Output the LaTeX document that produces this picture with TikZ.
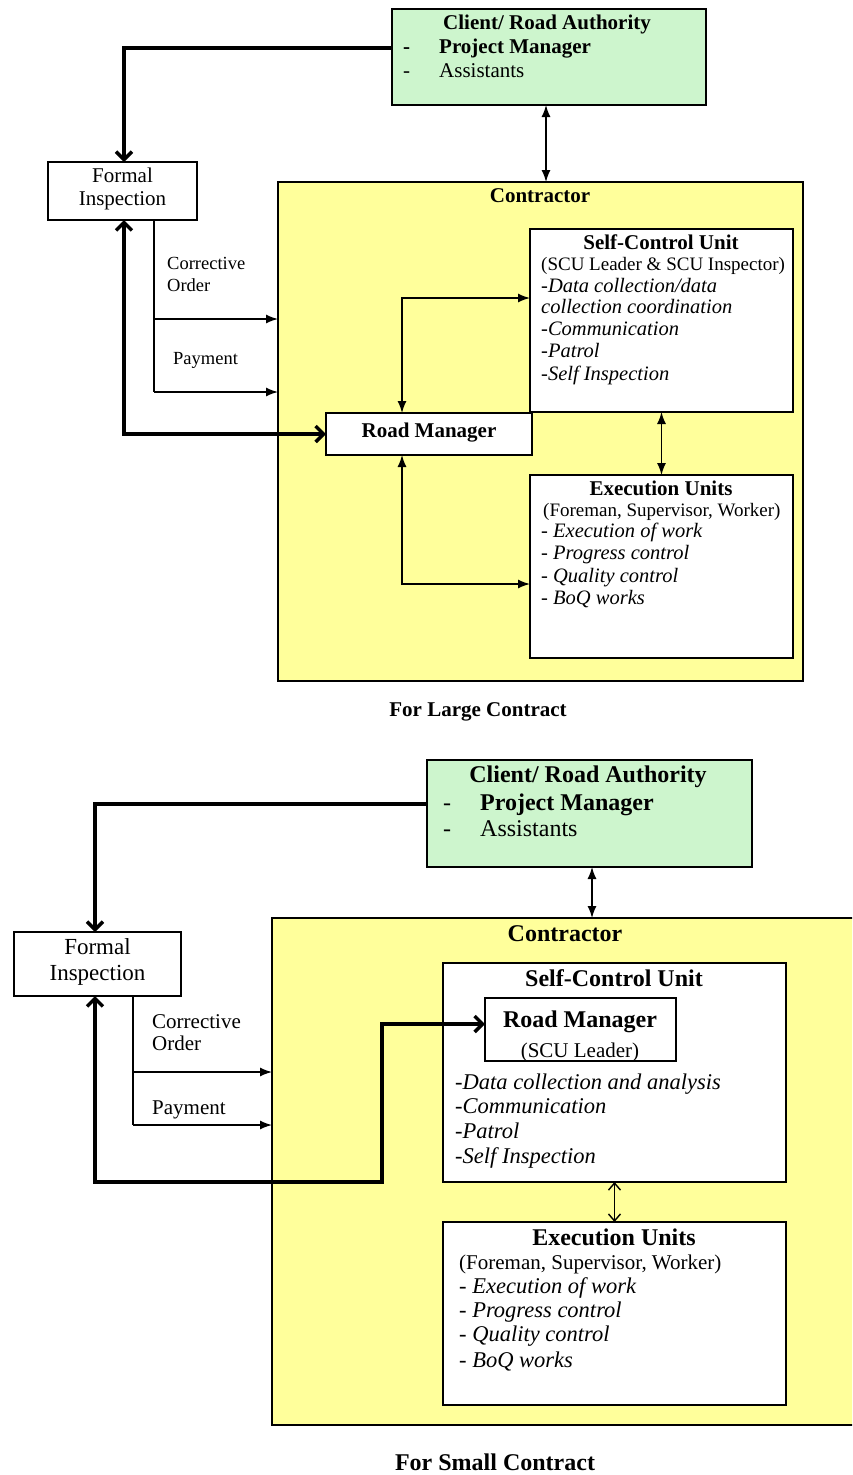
\documentclass[tikz,border=0pt]{standalone}
\usepackage{fontspec}
\setmainfont{Liberation Serif}
\usetikzlibrary{arrows.meta, positioning}
\definecolor{clientgreen}{RGB}{205,245,205}
\definecolor{contryellow}{RGB}{255,255,155}

\begin{document}
\begin{tikzpicture}[x=1pt, y=-1pt,
			>={Latex[length=12pt,width=9pt]},   %Pfeilspitzen duenn
			box/.style={draw, fill=white, line width=1.5pt, inner sep=0pt, outer sep=0pt},
			lbl/.style={inner sep=0pt, anchor=mid west, yshift=-4pt},
			hdA/.style={inner sep=0pt, anchor=mid, yshift=-4pt, font=\fontsize{21}{24}\selectfont\bfseries},
			txA/.style={lbl, font=\fontsize{19}{22}\selectfont},
			itA/.style={lbl, font=\fontsize{20.5}{22}\selectfont\itshape},
			hdB/.style={inner sep=0pt, anchor=mid, yshift=-5pt, font=\fontsize{24}{27}\selectfont\bfseries},
			txB/.style={lbl, yshift=-1pt, font=\fontsize{21}{24}\selectfont},
			itB/.style={lbl, yshift=-1pt, font=\fontsize{22.5}{25}\selectfont\itshape},
			conn/.style={line width=1.4pt},
			lead/.style={line width=3.5pt, -{Straight Barb[length=8pt,width=16pt]}},
			leadboth/.style={line width=3.5pt, {Straight Barb[length=8pt,width=16pt]}-{Straight Barb[length=8pt,width=16pt]}}]
			\useasboundingbox[fill=white] (0,0) rectangle (852,1475);
			\clip (0,0) rectangle (852,1475);

			%%% Grosser Vertrag
			% Kaesten
			\node[box, fill=clientgreen, minimum width=314, minimum height=96] (clientA) at (549,57) {};
			\node[box, minimum width=149, minimum height=58] (fiA) at (122.5,191) {};
			\node[box, fill=contryellow, line width=1.2pt, minimum width=525, minimum height=499] (contrA) at (540.5,431.5) {};
			\node[box, minimum width=263, minimum height=183] (scuA) at (661.5,320.5) {};
			\node[box, minimum width=263, minimum height=183] (euA) at (661.5,566.5) {};
			\node[box, line width=2.2pt, minimum width=206, minimum height=42] (rmA) at (429,434) {};
			% Beschriftung
			\node[hdA] (clientAt) at (547,23) {Client/ Road Authority};
			\node[hdA, anchor=mid west] (dashA1) at (403,47) {-};
			\node[hdA, anchor=mid west] (pmA) at (439,47) {Project Manager};
			\node[lbl, font=\fontsize{21}{24}\selectfont] (dashA2) at (403,71) {-};
			\node[lbl, font=\fontsize{21}{24}\selectfont] (asA) at (439,71) {Assistants};
			\node[txA, anchor=mid, font=\fontsize{21}{24}\selectfont] (fiA1) at (122.5,176) {Formal};
			\node[txA, anchor=mid, font=\fontsize{21}{24}\selectfont] (fiA2) at (122.5,199) {Inspection};
			\node[txA, font=\fontsize{18.5}{22}\selectfont] (corrA1) at (167,263) {Corrective};
			\node[txA, font=\fontsize{18.5}{22}\selectfont] (corrA2) at (167,285) {Order};
			\node[txA, font=\fontsize{18.5}{22}\selectfont] (payA) at (173,358) {Payment};
			\node[hdA] (contrAt) at (540,196) {Contractor};
			\node[hdA] (scuAt) at (661,243) {Self-Control Unit};
			\node[txA] (scuAs) at (541,264) {(SCU Leader \& SCU Inspector)};
			\foreach \y/\t in {286/{-Data collection/data}, 307/{collection coordination}, 329/{-Communication}, 351/{-Patrol}, 374/{-Self Inspection}}
				\node[itA] (scuA\y) at (541,\y) {\t};
			\node[hdA] (rmAt) at (429,431) {Road Manager};
			\node[hdA] (euAt) at (661,489) {Execution Units};
			\node[txA] (euAs) at (543,510) {(Foreman, Supervisor, Worker)};
			\foreach \y/\t in {531/{Execution of work}, 553/{Progress control}, 576/{Quality control}, 598/{BoQ works}}
				\node[itA] (euA\y) at (541,\y) {{\upshape-} \t};
			\node[hdA] (capA) at (478,710) {For Large Contract};
			% Verbindungen
			\coordinate (cA) at (124,48);
			\coordinate (kA) at (402,298);
			\coordinate (lA) at (402,584);
			\coordinate (mA) at (546,140);
			\coordinate (oA) at (154,319);
			\coordinate (pA) at (154,392);
			\draw[lead] (clientA.west |- cA) -| (fiA.north -| cA);
			\draw[leadboth] (fiA.south -| cA) |- (rmA.west);
			\draw[conn, <->] (clientA.south -| mA) -- (contrA.north -| mA);
			\draw[conn] (fiA.south -| oA) -- (pA);
			\draw[conn, ->] (oA) -- (contrA.west |- oA);
			\draw[conn, ->] (pA) -- (contrA.west |- pA);
			\draw[conn, <->] (rmA.north -| kA) -- (kA) -- (scuA.west |- kA);
			\draw[conn, <->] (rmA.south -| lA) -- (lA) -- (euA.west |- lA);
			\draw[conn, <->] (scuA.south) -- (euA.north);

			%%% Kleiner Vertrag
			% Kaesten
			\node[box, fill=clientgreen, minimum width=325, minimum height=107] (clientB) at (589.5,813.5) {};
			\node[box, minimum width=167, minimum height=64] (fiB) at (97.5,964) {};
			\node[box, fill=contryellow, line width=1.2pt, minimum width=588, minimum height=507] (contrB) at (566,1171.5) {};
			\node[box, minimum width=343, minimum height=219] (scuB) at (614.5,1072.5) {};
			\node[box, minimum width=191, minimum height=63] (rmB) at (580.5,1029.5) {};
			\node[box, minimum width=343, minimum height=183] (euB) at (614.5,1313.5) {};
			% Beschriftung
			\node[hdB] (clientBt) at (588,775) {Client/ Road Authority};
			\node[lbl, yshift=-1pt, font=\fontsize{24}{27}\selectfont] (dashB1) at (443,803) {-};
			\node[hdB, anchor=mid west] (pmB) at (480,803) {Project Manager};
			\node[lbl, yshift=-1pt, font=\fontsize{24}{27}\selectfont] (dashB2) at (443,829) {-};
			\node[lbl, yshift=-1pt, font=\fontsize{24}{27}\selectfont] (asB) at (480,829) {Assistants};
			\node[txB, anchor=mid, font=\fontsize{23}{26}\selectfont] (fiB1) at (97.5,947) {Formal};
			\node[txB, anchor=mid, font=\fontsize{23}{26}\selectfont] (fiB2) at (97.5,973) {Inspection};
			\node[txB] (corrB1) at (152,1021) {Corrective};
			\node[txB] (corrB2) at (152,1043) {Order};
			\node[txB] (payB) at (152,1107) {Payment};
			\node[hdB] (contrBt) at (565,934) {Contractor};
			\node[hdB] (scuBt) at (614,979) {Self-Control Unit};
			\node[hdB] (rmBt) at (580,1020) {Road Manager};
			\node[txB, anchor=mid] (rmBs) at (580,1050) {(SCU Leader)};
			\foreach \y/\t in {1082/{-Data collection and analysis}, 1106/{-Communication}, 1131/{-Patrol}, 1156/{-Self Inspection}}
				\node[itB] (scuB\y) at (455,\y) {\t};
			\node[hdB] (euBt) at (614,1238) {Execution Units};
			\node[txB] (euBs) at (459,1262) {(Foreman, Supervisor, Worker)};
			\foreach \y/\t in {1286/{Execution of work}, 1310/{Progress control}, 1334/{Quality control}, 1360/{BoQ works}}
				\node[itB] (euB\y) at (459,\y) {{\upshape-} \t};
			\node[hdB] (capB) at (495,1463) {For Small Contract};
			% Verbindungen
			\coordinate (cB) at (95,804);
			\coordinate (dB) at (382,1182);
			\coordinate (eB) at (382,1024);
			\coordinate (mB) at (592,890);
			\coordinate (oB) at (133,1072);
			\coordinate (pB) at (133,1125);
			\draw[lead] (clientB.west |- cB) -| (fiB.north -| cB);
			\draw[leadboth] (fiB.south -| cB) |- (dB) -- (eB) -- (rmB.west |- eB);
			\draw[conn, <->] (clientB.south -| mB) -- (contrB.north -| mB);
			\draw[conn] (fiB.south -| oB) -- (pB);
			\draw[conn, ->] (oB) -- (contrB.west |- oB);
			\draw[conn, ->] (pB) -- (contrB.west |- pB);
			\draw[conn, {Straight Barb[length=7pt,width=12pt]}-{Straight Barb[length=7pt,width=12pt]}] (scuB.south) -- (euB.north);
		\end{tikzpicture}
\end{document}
